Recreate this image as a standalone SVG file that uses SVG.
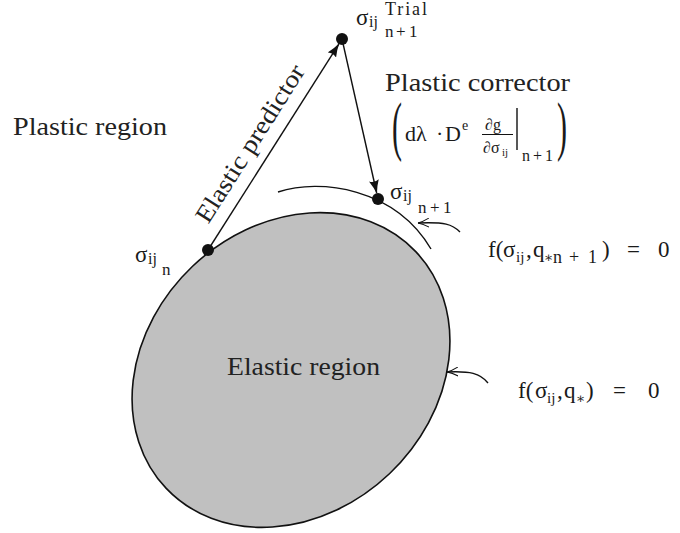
<svg xmlns="http://www.w3.org/2000/svg" width="680" height="533" viewBox="0 0 680 533">
<style>
text{font-family:'Liberation Serif','DejaVu Serif',serif}
.cm{fill:#222;font-size:25px}
.m{fill:#1a1a1a}
.ln{fill:none;stroke:#111;stroke-width:1.4}
.dot{fill:#111}
</style>
<defs>
<marker id="ah" viewBox="0 0 14 10" refX="13" refY="5" markerWidth="14" markerHeight="10" markerUnits="userSpaceOnUse" orient="auto">
<path d="M0,0 Q7,3.5 14,5 Q7,6.5 0,10 Q3,5 0,0 z" fill="#111"/>
</marker>
<marker id="ao" viewBox="0 0 12 10" refX="11" refY="5" markerWidth="12" markerHeight="10" markerUnits="userSpaceOnUse" orient="auto">
<path d="M0,0.5 Q6,4 11,5 M0,9.5 Q6,6 11,5" fill="none" stroke="#111" stroke-width="1"/>
</marker>
</defs>
<rect width="680" height="533" fill="#fff"/>
<g id="elastic-region">
<ellipse cx="291" cy="370" rx="172" ry="143" transform="rotate(-43.5 291 370)" fill="#c0c0c0" stroke="#111" stroke-width="1.6"/>
<text class="cm" x="227" y="375" textLength="153" lengthAdjust="spacingAndGlyphs">Elastic region</text>
</g>
<g id="plastic-region">
<text class="cm" x="13" y="135" textLength="154" lengthAdjust="spacingAndGlyphs">Plastic region</text>
</g>
<g id="yield-surface-n1">
<path class="ln" d="M278,192 C320,178 395,188 431,249"/>
</g>
<g id="connectors">
<path class="ln" d="M208,250 L338.8,44.1" marker-end="url(#ah)"/>
<path class="ln" d="M342,39 L376.7,193" marker-end="url(#ah)"/>
<path class="ln" stroke-width="1" d="M460,232 C452,224 445,222 418,223" marker-end="url(#ao)"/>
<path class="ln" stroke-width="1" d="M488,383 C480,373 470,371 447,372" marker-end="url(#ao)"/>
<text class="cm" transform="translate(257,148) rotate(-57.6)" text-anchor="middle" textLength="182" lengthAdjust="spacingAndGlyphs">Elastic predictor</text>
<g id="plastic-corrector">
<text class="cm" x="385" y="91" textLength="185" lengthAdjust="spacingAndGlyphs">Plastic corrector</text>
<text class="m" font-size="30" transform="translate(392,148) scale(1,2.15)">(</text>
<text class="m" font-size="30" transform="translate(557,148) scale(1,2.15)">)</text>
<text class="m" font-size="22"><tspan x="405" y="141">dλ</tspan><tspan x="436" y="141">·</tspan><tspan x="445" y="141">D</tspan><tspan x="462" y="130" font-size="14">e</tspan><tspan x="485" y="130" font-size="16">∂g</tspan><tspan x="483" y="153" font-size="16">∂σ</tspan><tspan x="502" y="156" font-size="11">ij</tspan><tspan x="522" y="161" font-size="16">n</tspan><tspan x="533" y="161" font-size="16">+</tspan><tspan x="545" y="161" font-size="16">1</tspan></text>
<line x1="482" y1="134.5" x2="513" y2="134.5" stroke="#111" stroke-width="1"/>
<line x1="517" y1="108" x2="517" y2="150" stroke="#111" stroke-width="1.4"/>
</g>
</g>
<g id="sigma-n">
<circle class="dot" cx="208" cy="250" r="6"/>
<text class="m" font-size="23"><tspan x="135" y="262">σ</tspan><tspan x="148" y="264" font-size="16">ij</tspan><tspan x="162" y="275" font-size="17">n</tspan></text>
</g>
<g id="sigma-trial">
<circle class="dot" cx="342" cy="39" r="6"/>
<text class="m" font-size="23"><tspan x="356" y="25">σ</tspan><tspan x="369" y="27" font-size="16">ij</tspan><tspan x="385" y="15" font-size="18" textLength="42" lengthAdjust="spacing">Trial</tspan><tspan x="385" y="37" font-size="17">n</tspan><tspan x="396" y="37" font-size="17">+</tspan><tspan x="409" y="37" font-size="17">1</tspan></text>
</g>
<g id="sigma-n1">
<circle class="dot" cx="378" cy="199" r="6"/>
<text class="m" font-size="23"><tspan x="390" y="199">σ</tspan><tspan x="403" y="201" font-size="16">ij</tspan><tspan x="418" y="213" font-size="17">n</tspan><tspan x="430" y="213" font-size="17">+</tspan><tspan x="443" y="213" font-size="17">1</tspan></text>
</g>
<g id="eq-f-n1">
<text class="m" font-size="23"><tspan x="488" y="257">f(</tspan><tspan x="503" y="257">σ</tspan><tspan x="516" y="262" font-size="15">ij</tspan><tspan x="526" y="257">,</tspan><tspan x="533" y="257">q</tspan><tspan x="544" y="262" font-size="14">∗</tspan><tspan x="553" y="263" font-size="18">n</tspan><tspan x="569" y="263" font-size="18">+</tspan><tspan x="588" y="263" font-size="18">1</tspan><tspan x="602" y="257">)</tspan><tspan x="627" y="257">=</tspan><tspan x="658" y="257">0</tspan></text>
</g>
<g id="eq-f">
<text class="m" font-size="23"><tspan x="518" y="398">f(</tspan><tspan x="535" y="398">σ</tspan><tspan x="547" y="403" font-size="15">ij</tspan><tspan x="557" y="398">,</tspan><tspan x="564" y="398">q</tspan><tspan x="576" y="403" font-size="14">∗</tspan><tspan x="586" y="398">)</tspan><tspan x="613" y="398">=</tspan><tspan x="648" y="398">0</tspan></text>
</g>
</svg>
